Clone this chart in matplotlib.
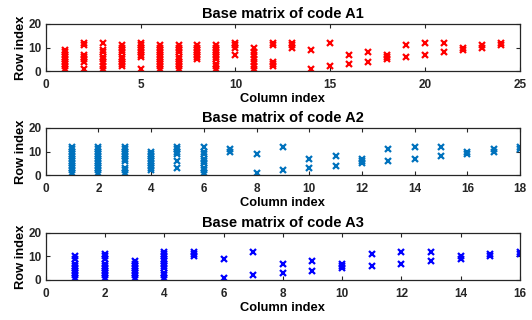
import numpy as np
import matplotlib
matplotlib.use('Agg')
import matplotlib.pyplot as plt

plt.rcParams['font.family'] = ['Liberation Sans', 'DejaVu Sans']
plt.rcParams['font.weight'] = 'bold'

# non-zero entries of each base matrix: column -> list of rows
A1 = {1: [1, 2, 3, 4, 5, 6, 7, 8, 9], 2: [1, 4, 5, 6, 7, 11, 12],
      3: [1, 2, 4, 5, 6, 8, 9, 12], 4: [2, 3, 4, 5, 6, 8, 9, 10, 11],
      5: [1, 6, 7, 8, 9, 10, 11, 12], 6: [1, 2, 3, 4, 5, 6, 7, 8, 9, 10, 11],
      7: [1, 2, 3, 4, 5, 6, 8, 9, 10, 11], 8: [5, 6, 7, 8, 9, 10, 11],
      9: [1, 2, 3, 5, 6, 7, 8, 9, 10, 11], 10: [7, 10, 11, 12],
      11: [1, 2, 4, 5, 7, 8, 10], 12: [2, 3, 4, 11, 12], 13: [10, 11, 12],
      14: [1, 9], 15: [2, 12], 16: [3, 7], 17: [4, 8], 18: [5, 6, 7],
      19: [6, 11], 20: [7, 12], 21: [8, 12], 22: [9, 10], 23: [10, 11], 24: [11, 12]}
A2 = {1: [1, 2, 3, 4, 5, 6, 7, 8, 9, 10, 11, 12], 2: [1, 2, 3, 4, 5, 6, 7, 8, 9, 10, 11, 12],
      3: [1, 2, 3, 6, 7, 8, 9, 10, 11, 12], 4: [2, 3, 4, 5, 6, 7, 8, 9, 10],
      5: [3, 6, 9, 10, 11, 12], 6: [1, 2, 3, 5, 6, 7, 9, 10, 12], 7: [10, 11],
      8: [1, 9], 9: [2, 12], 10: [3, 7], 11: [4, 8], 12: [5, 6, 7], 13: [6, 11],
      14: [7, 12], 15: [8, 12], 16: [9, 10], 17: [10, 11], 18: [11, 12]}
A3 = {1: [1, 2, 3, 4, 5, 6, 7, 9, 10], 2: [1, 2, 3, 4, 5, 6, 7, 9, 10, 11],
      3: [1, 2, 3, 4, 5, 6, 7, 8], 4: [1, 2, 3, 5, 6, 7, 8, 9, 10, 11, 12],
      5: [10, 11, 12], 6: [1, 9], 7: [2, 12], 8: [3, 7], 9: [4, 8], 10: [5, 6, 7],
      11: [6, 11], 12: [7, 12], 13: [8, 12], 14: [9, 10], 15: [10, 11], 16: [11, 12]}

mats = [A1, A2, A3]
names = ['A1', 'A2', 'A3']
colors = ['#ff0000', '#0072bd', '#0000ff']
xlims = [25, 18, 16]
xsteps = [5, 2, 2]
bottoms = [0.778, 0.453, 0.125]

W, H = 532, 320
fig = plt.figure(figsize=(W / 100, H / 100), dpi=100)
ax_col = '#262626'

for M, nm, c, xl, st, b in zip(mats, names, colors, xlims, xsteps, bottoms):
    ax = fig.add_axes([45.7 / W, b, (520 - 45.7) / W, 0.147])
    cols = []
    rows = []
    for k in M:
        for r in M[k]:
            cols.append(k)
            rows.append(r)
    ax.plot(cols, rows, 'x', color=c, markersize=4.8, markeredgewidth=1.6)
    ax.set_xlim(0, xl)
    ax.set_ylim(0, 20)
    ax.set_xticks(np.arange(0, xl + 1, st))
    ax.set_yticks([0, 10, 20])
    ax.tick_params(direction='in', length=3, width=0.8, labelsize=8.5,
                   colors=ax_col, top=True, right=True)
    ax.tick_params(axis='x', pad=6)
    ax.tick_params(axis='y', pad=3)
    for s in ax.spines.values():
        s.set_color(ax_col)
        s.set_linewidth(0.9)
    ax.set_title('Base matrix of code ' + nm, fontsize=10.5, fontweight='bold', pad=4)
    ax.set_xlabel('Column index', fontsize=9.3, fontweight='bold', labelpad=1.5)
    ax.set_ylabel('Row index', fontsize=9.3, fontweight='bold', labelpad=1)

fig.savefig('out.png', dpi=100)
